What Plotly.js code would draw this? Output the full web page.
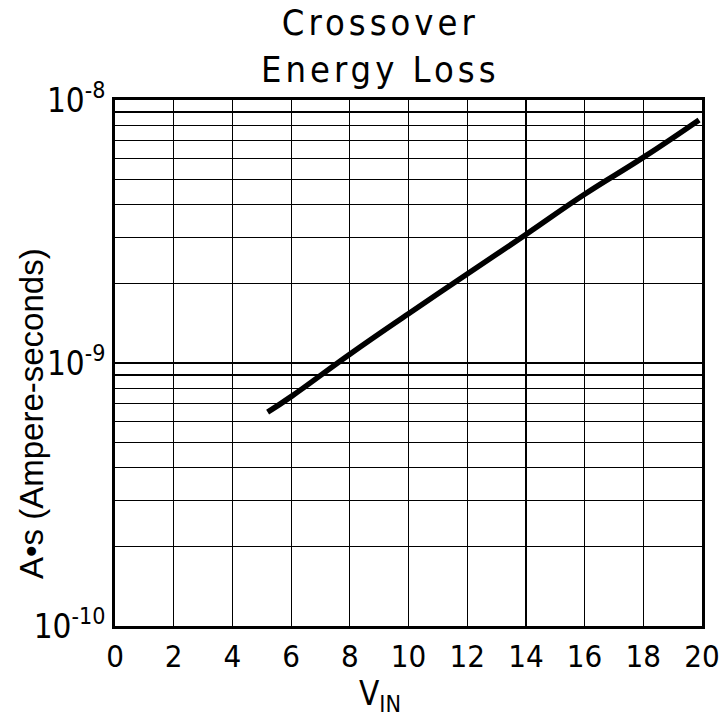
<!DOCTYPE html>
<html>
<head>
<meta charset="utf-8">
<script src="https://cdn.plot.ly/plotly-3.0.1.min.js"></script>
<style>
html,body{margin:0;padding:0;background:#fff;}
#chart{width:724px;height:727px;}
.chart-title text{letter-spacing:4px;}
</style>
</head>
<body>
<div id="chart"></div>
<script>
// Data
var vin = [5.2, 6, 8, 10, 12, 14, 16, 18, 19.9];
var energyLoss = [6.5e-10, 7.45e-10, 1.08e-9, 1.54e-9, 2.18e-9, 3.08e-9, 4.38e-9, 6.05e-9, 8.4e-9];

var xTickVals = [0, 2, 4, 6, 8, 10, 12, 14, 16, 18, 20];
var yTickVals = [1e-10, 2e-10, 3e-10, 4e-10, 5e-10, 6e-10, 7e-10, 8e-10, 9e-10,
                 1e-9, 2e-9, 3e-9, 4e-9, 5e-9, 6e-9, 7e-9, 8e-9, 9e-9, 1e-8];
var yTickText = ['10<sup>-10</sup>', '', '', '', '', '', '', '', '',
                 '10<sup>-9</sup>', '', '', '', '', '', '', '', '', '10<sup>-8</sup>'];

var titleText = 'Crossover<br>Energy Loss';
var xTitleText = 'V<sub>IN</sub>';
var yTitleText = 'A\u2022s (Ampere-seconds)';

var NARROW = 'Liberation Sans Narrow, DejaVu Sans Condensed, Liberation Sans, sans-serif';
var REG = 'Liberation Sans, Arial, sans-serif';

var trace = {
  x: vin,
  y: energyLoss,
  type: 'scatter',
  mode: 'lines',
  line: {color: '#000', width: 5.5, shape: 'spline', smoothing: 1.3},
  hoverinfo: 'skip'
};

var layout = {
  width: 724,
  height: 727,
  margin: {l: 115, r: 22, t: 100, b: 101},
  paper_bgcolor: '#fff',
  plot_bgcolor: '#fff',
  showlegend: false,
  font: {family: NARROW, color: '#000'},
  xaxis: {
    range: [0, 20],
    tickmode: 'array',
    tickvals: xTickVals,
    ticks: '',
    showgrid: true,
    gridcolor: '#000',
    gridwidth: 1.2,
    zeroline: false,
    showline: true,
    linecolor: '#000',
    linewidth: 3,
    mirror: true,
    tickfont: {family: NARROW, size: 31, color: '#000'},
    ticklabelstandoff: 1
  },
  yaxis: {
    type: 'log',
    range: [-10, -8],
    tickmode: 'array',
    tickvals: yTickVals,
    ticktext: yTickText,
    ticks: '',
    showgrid: true,
    gridcolor: '#000',
    gridwidth: 1.2,
    zeroline: false,
    showline: true,
    linecolor: '#000',
    linewidth: 3,
    mirror: true,
    tickfont: {family: NARROW, size: 33, color: '#000'},
    ticklabelstandoff: 0
  },
  annotations: [
    {
      text: titleText,
      xref: 'paper', yref: 'paper',
      x: (380 - 115) / 587, y: (626 - 46) / 526,
      xanchor: 'center', yanchor: 'middle',
      showarrow: false,
      font: {family: NARROW, size: 36, color: '#000'}
    },
    {
      text: xTitleText,
      xref: 'paper', yref: 'paper',
      x: (380 - 115) / 587, y: (626 - 695) / 526,
      xanchor: 'center', yanchor: 'middle',
      showarrow: false,
      font: {family: NARROW, size: 33, color: '#000'}
    },
    {
      text: yTitleText,
      xref: 'paper', yref: 'paper',
      x: (31 - 115) / 587, y: (626 - 414) / 526,
      xanchor: 'center', yanchor: 'middle',
      textangle: -90,
      showarrow: false,
      font: {family: REG, size: 33, color: '#000'}
    }
  ]
};

Plotly.newPlot('chart', [trace], layout, {displayModeBar: false, staticPlot: true}).then(function () {
  var ann = document.querySelectorAll('.annotation');
  if (ann.length) ann[0].classList.add('chart-title');
});
</script>
</body>
</html>
